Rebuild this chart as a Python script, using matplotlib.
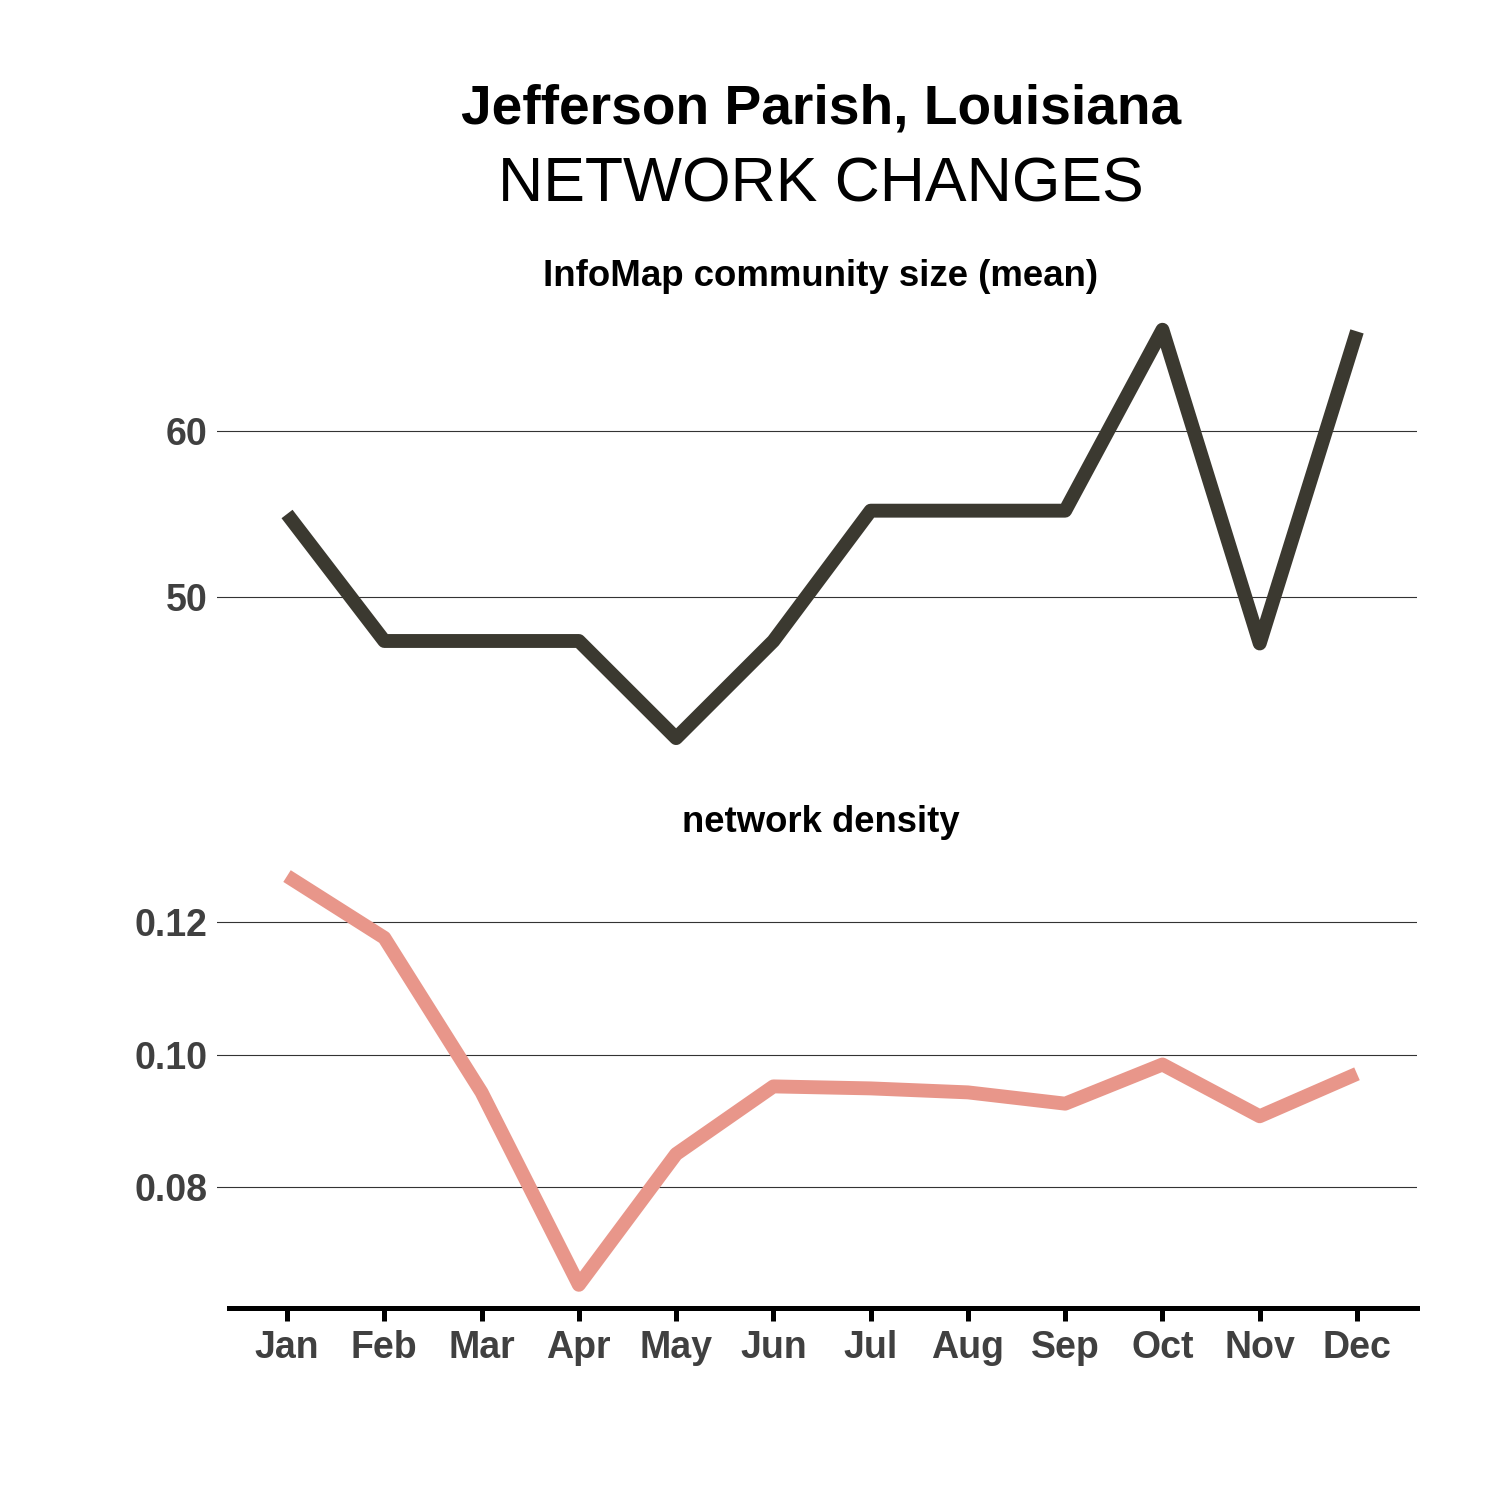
import matplotlib
matplotlib.use("Agg")
import matplotlib.pyplot as plt

months = ["Jan", "Feb", "Mar", "Apr", "May", "Jun", "Jul", "Aug", "Sep", "Oct", "Nov", "Dec"]
community_size = [55.0, 47.35, 47.35, 47.35, 41.5, 47.35, 55.2, 55.2, 55.2, 66.1, 47.2, 66.0]
density = [0.1269, 0.1176, 0.0943, 0.0653, 0.0850, 0.0952, 0.0949, 0.0943, 0.0926, 0.0985, 0.0907, 0.0971]
top_ticks = [50, 60]
bottom_ticks = [0.08, 0.10, 0.12]
bottom_ticklabels = ["0.08", "0.10", "0.12"]

plt.rcParams['font.family'] = ['Liberation Sans', 'DejaVu Sans']

W = H = 1500
fig = plt.figure(figsize=(15, 15), dpi=100)

def rect(x0, y0, x1, y1):
    return [x0 / W, 1 - y1 / H, (x1 - x0) / W, (y1 - y0) / H]

x = list(range(len(months)))
xl = (-0.72, 11.617)
tick_col = "#404040"

ax1 = fig.add_axes(rect(217, 305, 1417, 770))
ax2 = fig.add_axes(rect(217, 850, 1417, 1308))

ax1.plot(x, community_size, color="#3b3930", lw=10, solid_joinstyle="round", solid_capstyle="butt")
ax2.plot(x, density, color="#e8968a", lw=10, solid_joinstyle="round", solid_capstyle="butt")

# top
px1 = 16.6
ax1.set_ylim(60 - (770 - 431) / px1, 60 + (431 - 305) / px1)
ax1.set_yticks(top_ticks)
# bottom
px2 = 6650
ax2.set_ylim(0.08 - (1308 - 1187) / px2, 0.12 + (922 - 850) / px2)
ax2.set_yticks(bottom_ticks)
ax2.set_yticklabels(bottom_ticklabels)

for ax in (ax1, ax2):
    ax.set_xlim(*xl)
    ax.set_facecolor("none")
    for s in ax.spines.values():
        s.set_visible(False)
    ax.grid(axis="y", color="#333333", lw=0.8)
    ax.set_axisbelow(True)
    ax.tick_params(axis="y", length=0, pad=7, labelsize=27, labelcolor=tick_col)
    for lab in ax.get_yticklabels():
        lab.set_fontweight("bold")

ax1.set_xticks([])
ax2.set_xticks(x)
ax2.set_xticklabels(months, fontsize=27, fontweight="bold", color=tick_col)
ax2.tick_params(axis="x", length=9, width=3.6, color="black", pad=7)
ax2.spines["bottom"].set_visible(True)
ax2.spines["bottom"].set_linewidth(3.6)
ax2.spines["bottom"].set_color("black")
ax2.spines["bottom"].set_bounds(-0.596, 11.617)

cx = 821 / W
fig.text(cx, 1 - 123 / H, "Jefferson Parish, Louisiana", ha="center", va="baseline",
         fontsize=39.7, fontweight="bold", color="black")
fig.text(cx, 1 - 201 / H, "NETWORK CHANGES", ha="center", va="baseline",
         fontsize=45, color="black")
fig.text(cx, 1 - 286 / H, "InfoMap community size (mean)", ha="center", va="baseline",
         fontsize=26.4, fontweight="bold", color="black")
fig.text(cx, 1 - 832 / H, "network density", ha="center", va="baseline",
         fontsize=26.3, fontweight="bold", color="black")

fig.savefig("out.png", dpi=100, facecolor="white")
